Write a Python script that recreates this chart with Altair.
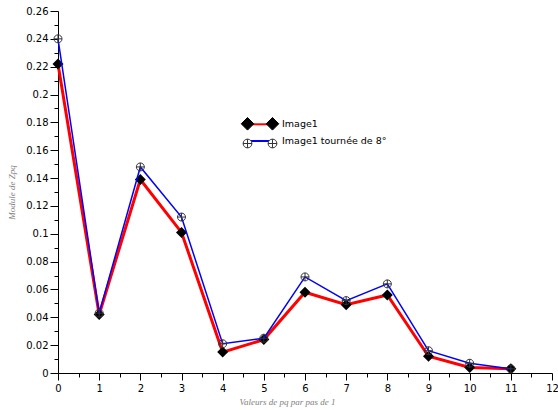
import altair as alt
import pandas as pd

# ---- data ----
pq = [0, 1, 2, 3, 4, 5, 6, 7, 8, 9, 10, 11]
image1 = [0.222, 0.042, 0.139, 0.101, 0.015, 0.024, 0.058, 0.049, 0.056, 0.012, 0.004, 0.003]
image1_rot = [0.240, 0.043, 0.148, 0.112, 0.021, 0.025, 0.069, 0.052, 0.064, 0.016, 0.007, 0.003]
series_names = ["Image1", "Image1 tournée de 8°"]
marker_keys = ["m1", "m2"]

x_ticks = [0, 0.5, 1, 1.5, 2, 2.5, 3, 3.5, 4, 4.5, 5, 5.5, 6, 6.5, 7, 7.5, 8, 8.5,
           9, 9.5, 10, 10.5, 11, 11.5, 12]
y_ticks = [0, 0.01, 0.02, 0.03, 0.04, 0.05, 0.06, 0.07, 0.08, 0.09, 0.10, 0.11, 0.12,
           0.13, 0.14, 0.15, 0.16, 0.17, 0.18, 0.19, 0.20, 0.21, 0.22, 0.23, 0.24,
           0.25, 0.26]

rows = []
for xv, a, b in zip(pq, image1, image1_rot):
    rows.append({"pq": xv, "module": a, "serie": series_names[0], "mk": marker_keys[0]})
    rows.append({"pq": xv, "module": b, "serie": series_names[1], "mk": marker_keys[1]})
df = pd.DataFrame(rows)

# ---- symbol paths ----
CIRCLE_PLUS = "M1,0A1,1,0,1,1,-1,0A1,1,0,1,1,1,0Z M-1,0L1,0 M0,-1L0,1"
LEG_LINE = "M-2.08,0L2.08,0"
LEG_DIAMONDS = ("M-3.13,0L-2.08,-1.05L-1.03,0L-2.08,1.05Z "
                "M1.03,0L2.08,-1.05L3.13,0L2.08,1.05Z")
LEG_CIRCLES = ("M-1.35,0A0.73,0.73,0,1,1,-2.81,0A0.73,0.73,0,1,1,-1.35,0Z "
               "M-2.81,0L-1.35,0 M-2.08,-0.73L-2.08,0.73 "
               "M2.81,0A0.73,0.73,0,1,1,1.35,0A0.73,0.73,0,1,1,2.81,0Z "
               "M1.35,0L2.81,0 M2.08,-0.73L2.08,0.73")

LEG_X = 195.5
LEG_Y = 106.3

x_axis = alt.Axis(
    values=x_ticks,
    labelExpr="datum.value % 1 === 0 ? format(datum.value, 'd') : ''",
    tickSize={"condition": {"test": "datum.value % 1 === 0", "value": 7}, "value": 4},
    labelOverlap=False, labelFlush=False, grid=False,
    domainColor="black", tickColor="black", labelColor="black",
    labelFont="DejaVu Sans", labelFontSize=10, labelPadding=3,
    title="Valeurs de pq par pas de 1", titleFont="Liberation Serif",
    titleFontStyle="italic", titleFontWeight="normal", titleFontSize=9,
    titleColor="#808080", titleX=229, titleY=28.7, titleBaseline="middle",
    titleAlign="center",
)
y_axis = alt.Axis(
    values=y_ticks,
    labelExpr="round(datum.value*100) % 2 === 0 ? format(datum.value, '.2~f') : ''",
    tickSize={"condition": {"test": "round(datum.value*100) % 2 === 0", "value": 8}, "value": 4},
    labelOverlap=False, labelFlush=False, grid=False,
    domainColor="black", tickColor="black", labelColor="black",
    labelFont="DejaVu Sans", labelFontSize=10, labelPadding=2,
    title="Module de Zpq", titleFont="Liberation Serif",
    titleFontStyle="italic", titleFontWeight="normal", titleFontSize=9,
    titleColor="#808080", titleX=-47, titleY=181, titleAngle=-90,
    titleBaseline="middle", titleAlign="center",
)

base = alt.Chart(df).encode(
    x=alt.X("pq:Q", scale=alt.Scale(domain=[0, 12], nice=False, zero=False), axis=x_axis),
    y=alt.Y("module:Q", scale=alt.Scale(domain=[0, 0.26], nice=False), axis=y_axis),
)

color_legend = alt.Legend(
    orient="none", legendX=LEG_X, legendY=LEG_Y, title=None,
    symbolType=LEG_LINE, symbolSize=144, symbolStrokeWidth=2,
    labelFont="DejaVu Sans", labelFontSize=9.5, labelColor="black",
    labelOffset=14.5, rowPadding=4.7, padding=0, zindex=0,
)
color_enc = alt.Color("serie:N", scale=alt.Scale(domain=series_names, range=["#ff0000", "#0000ff"]),
                      legend=color_legend)

red_line = base.transform_filter(alt.datum.serie == series_names[0]).mark_line(
    strokeWidth=3).encode(color=color_enc)
red_pts = base.transform_filter(alt.datum.serie == series_names[0]).mark_point(
    shape="diamond", size=121, filled=True, fill="black", strokeWidth=0, opacity=1)
blue_line = base.transform_filter(alt.datum.serie == series_names[1]).mark_line(
    strokeWidth=1.5).encode(color=color_enc)
blue_pts = base.transform_filter(alt.datum.serie == series_names[1]).mark_point(
    shape=CIRCLE_PLUS, size=64, filled=False, stroke="#333333", strokeWidth=1, opacity=1)

marker_legend = alt.Legend(
    orient="none", legendX=LEG_X, legendY=LEG_Y, title=None,
    symbolSize=144, symbolStrokeWidth=1,
    labelFont="DejaVu Sans", labelFontSize=9.5, labelExpr="''",
    labelOffset=14.5, rowPadding=4.7, padding=0, zindex=1,
)
legend_layer = base.transform_filter("false").mark_point(filled=True, opacity=1).encode(
    shape=alt.Shape("mk:N", scale=alt.Scale(domain=marker_keys, range=[LEG_DIAMONDS, LEG_CIRCLES]),
                    legend=marker_legend),
    fill=alt.Fill("mk:N", scale=alt.Scale(domain=marker_keys, range=["black", "white"]),
                  legend=marker_legend),
    stroke=alt.Stroke("mk:N", scale=alt.Scale(domain=marker_keys, range=["black", "#333333"]),
                      legend=marker_legend),
)

chart = alt.layer(red_line, red_pts, blue_line, blue_pts, legend_layer).properties(
    width=494, height=362,
    autosize=alt.AutoSizeParams(type="none"),
    padding={"left": 58, "top": 11, "right": 6, "bottom": 37},
    background="white",
).configure_view(stroke=None)

chart.save("out.html", embed_options={"renderer": "svg", "actions": False})
